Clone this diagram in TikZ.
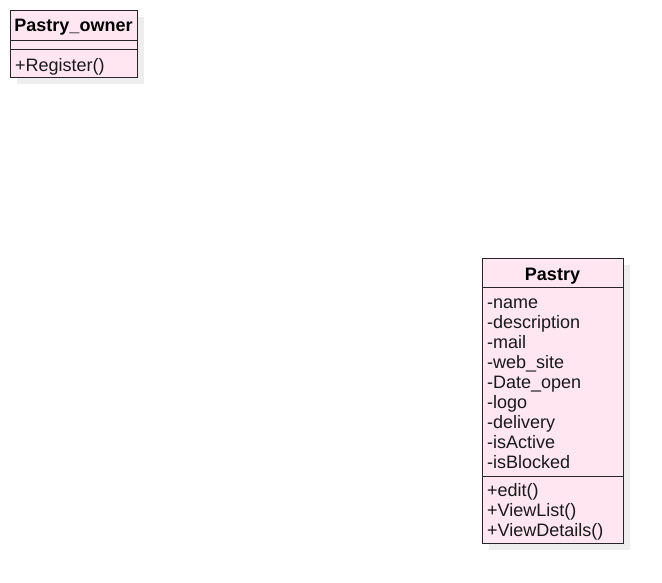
\documentclass[tikz,border=0pt]{standalone}
\usepackage{fontspec}
\setmainfont{Liberation Sans}
\definecolor{umlfill}{HTML}{FFE6F0}
\definecolor{umlshadow}{HTML}{EEEEEE}
\begin{document}
\begin{tikzpicture}[x=1pt,y=-1pt,
  box/.style={draw=black!85, fill=umlfill, line width=0.9pt, inner sep=0, anchor=north west},
  shadowbox/.style={fill=umlshadow, draw=none, inner sep=0, anchor=north west},
  txt/.style={anchor=base west, inner sep=0, font=\fontsize{18}{20}\selectfont, text=black!90},
  ttl/.style={anchor=base, inner sep=0, font=\fontsize{18}{20}\selectfont\bfseries, text=black}]
\useasboundingbox (0,0) rectangle (662,583);
% Pastry_owner
\node[shadowbox, minimum width=127, minimum height=67] (ownershadow) at (17,17) {};
\node[box, minimum width=127, minimum height=67] (owner) at (10,10) {};
\draw[draw=black!85, line width=0.9pt] (10,40) -- (137,40);
\draw[draw=black!85, line width=0.9pt] (10,49) -- (137,49);
\node[ttl] (ownertitle) at (73.5,32) {Pastry\_owner};
\node[txt] (ownerm1) at (15,72) {+Register()};
% Pastry
\node[shadowbox, minimum width=141, minimum height=285] (pastryshadow) at (489,265) {};
\node[box, minimum width=141, minimum height=285] (pastry) at (482,258) {};
\draw[draw=black!85, line width=0.9pt] (482,287) -- (623,287);
\draw[draw=black!85, line width=0.9pt] (482,476) -- (623,476);
\node[ttl] (pastrytitle) at (552.5,280.5) {Pastry};
\node[txt] (a1) at (487,308.5) {-name};
\node[txt] (a2) at (487,328.5) {-description};
\node[txt] (a3) at (487,348.5) {-mail};
\node[txt] (a4) at (487,368.5) {-web\_site};
\node[txt] (a5) at (487,388.5) {-Date\_open};
\node[txt] (a6) at (487,408.5) {-logo};
\node[txt] (a7) at (487,428.5) {-delivery};
\node[txt] (a8) at (487,448.5) {-isActive};
\node[txt] (a9) at (487,468.5) {-isBlocked};
\node[txt] (m1) at (487,496.5) {+edit()};
\node[txt] (m2) at (487,516.5) {+ViewList()};
\node[txt] (m3) at (487,536.5) {+ViewDetails()};
\end{tikzpicture}
\end{document}
